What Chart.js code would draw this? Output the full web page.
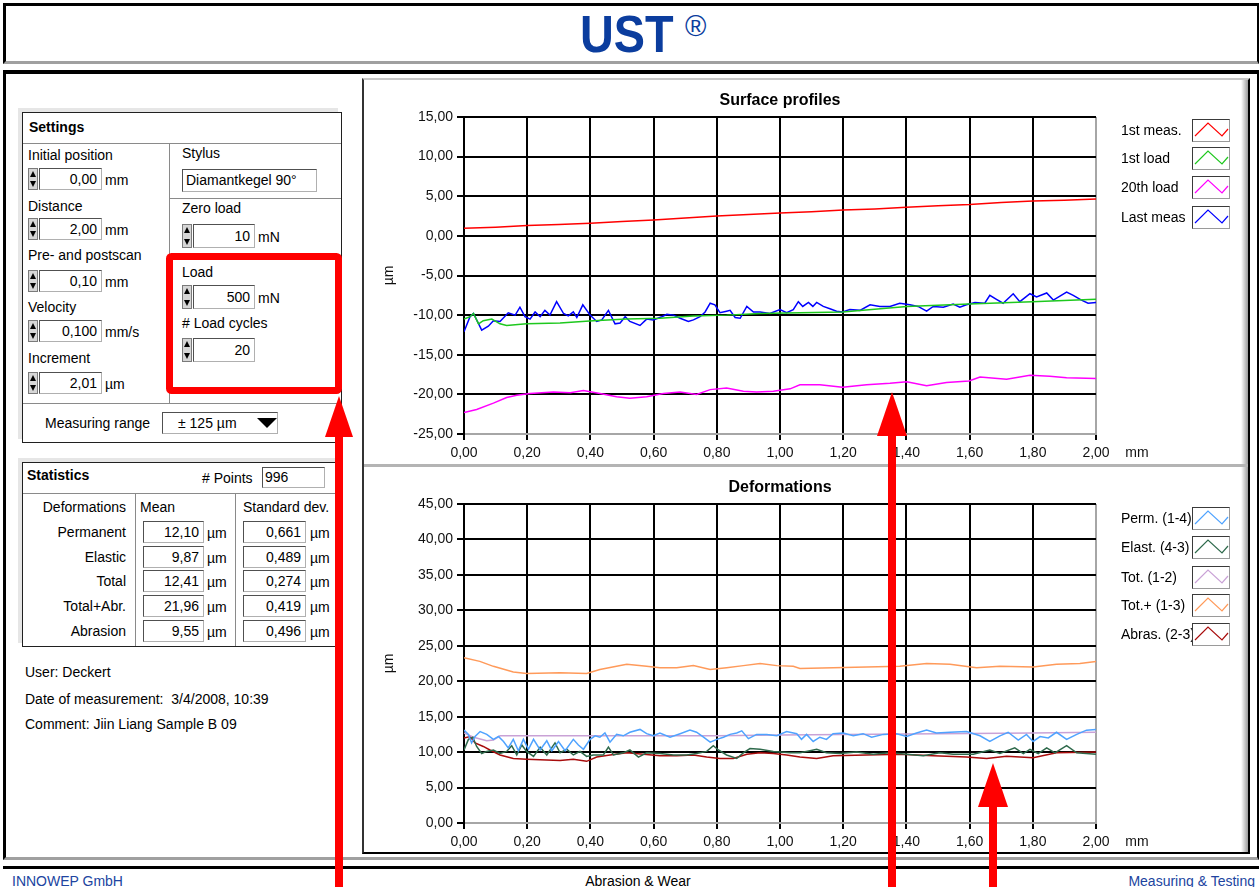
<!DOCTYPE html>
<html>
<head>
<meta charset="utf-8">
<title>UST - Abrasion &amp; Wear</title>
<script src="https://cdn.jsdelivr.net/npm/chart.js@4.4.1/dist/chart.umd.min.js"></script>
<style>
  html, body { margin: 0; padding: 0; }
  body { width: 1259px; height: 887px; overflow: hidden; position: relative; background: #fff;
         font-family: "Liberation Sans", Arial, sans-serif; font-size: 14px; color: #000; }
  .a { position: absolute; box-sizing: border-box; }
  .lbl { position: absolute; white-space: nowrap; line-height: 16px; }
  .b { font-weight: bold; }
  .spin { position: absolute; width: 10px; height: 22px; box-sizing: border-box; background: #d6d6d6;
          border: 1px solid #7a7a7a; }
  .spin::before { content: ''; position: absolute; left: 1px; top: 2px; border-left: 3px solid transparent;
          border-right: 3px solid transparent; border-bottom: 6px solid #000; }
  .spin::after { content: ''; position: absolute; left: 1px; bottom: 2px; border-left: 3px solid transparent;
          border-right: 3px solid transparent; border-top: 6px solid #000; }
  .num { position: absolute; height: 22px; box-sizing: border-box; background: #fff; border: 1px solid #b0b0b0;
         border-top-color: #505050; border-left-color: #505050; text-align: right; padding-right: 4px; line-height: 20px; }
  .ln { position: absolute; background: #8a8a8a; }
  .leg { position: absolute; left: 1121px; white-space: nowrap; line-height: 16px; }
  .legbox { position: absolute; left: 1192px; width: 38px; height: 23px; box-sizing: border-box; background: #fff;
            border: 1px solid #3a3a3a; border-right-color: #9a9a9a; border-bottom-color: #9a9a9a; }
  canvas { position: absolute; }
</style>
</head>
<body>

<!-- header -->
<div class="a" style="left:3px;top:3px;width:1256px;height:61px;border-top:3px solid #000;border-left:3px solid #000;border-right:2px solid #000;border-bottom:3px solid #a0a0a0"></div>
<div class="lbl b" style="left:580px;top:8px;font-size:52px;line-height:52px;color:#0b3d9e;transform:scaleX(0.9);transform-origin:left top">UST</div>
<div class="lbl" style="left:685px;top:12px;font-size:29px;line-height:29px;color:#0b3d9e">®</div>

<!-- main frame -->
<div class="a" style="left:3px;top:70px;width:1256px;height:790px;border-top:4px solid #000;border-left:3px solid #000;border-right:2px solid #000;border-bottom:3px solid #a0a0a0"></div>

<!-- settings -->
<div class="a" style="left:22px;top:112px;width:320px;height:331px;border:1px solid #202020;box-shadow:-4px -4px 0 0 #e6e6e6"></div>
<div class="lbl b" style="left:29px;top:119px">Settings</div>
<div class="ln" style="left:23px;top:143px;width:318px;height:1px"></div>
<div class="ln" style="left:169px;top:143px;width:1px;height:260px"></div>
<div class="ln" style="left:169px;top:198px;width:172px;height:1px"></div>
<div class="ln" style="left:23px;top:403px;width:318px;height:1px"></div>

<div class="lbl" style="left:28px;top:147px">Initial position</div>
<div class="spin" style="left:28px;top:168px"></div>
<div class="num" style="left:39px;top:168px;width:63px">0,00</div>
<div class="lbl" style="left:105px;top:172px">mm</div>

<div class="lbl" style="left:28px;top:198px">Distance</div>
<div class="spin" style="left:28px;top:218px"></div>
<div class="num" style="left:39px;top:218px;width:63px">2,00</div>
<div class="lbl" style="left:105px;top:222px">mm</div>

<div class="lbl" style="left:28px;top:247px">Pre- and postscan</div>
<div class="spin" style="left:28px;top:270px"></div>
<div class="num" style="left:39px;top:270px;width:63px">0,10</div>
<div class="lbl" style="left:105px;top:274px">mm</div>

<div class="lbl" style="left:28px;top:299px">Velocity</div>
<div class="spin" style="left:28px;top:320px"></div>
<div class="num" style="left:39px;top:320px;width:63px">0,100</div>
<div class="lbl" style="left:105px;top:324px">mm/s</div>

<div class="lbl" style="left:28px;top:350px">Increment</div>
<div class="spin" style="left:28px;top:372px"></div>
<div class="num" style="left:39px;top:372px;width:63px">2,01</div>
<div class="lbl" style="left:105px;top:376px">µm</div>

<div class="lbl" style="left:182px;top:145px">Stylus</div>
<div class="num" style="left:182px;top:169px;width:135px;height:23px;text-align:left;padding-left:3px">Diamantkegel 90°</div>

<div class="lbl" style="left:182px;top:200px">Zero load</div>
<div class="spin" style="left:182px;top:224px;height:24px"></div>
<div class="num" style="left:193px;top:224px;width:62px;height:24px;line-height:22px">10</div>
<div class="lbl" style="left:258px;top:229px">mN</div>

<div class="lbl" style="left:182px;top:264px">Load</div>
<div class="spin" style="left:182px;top:285px;height:24px"></div>
<div class="num" style="left:193px;top:285px;width:62px;height:24px;line-height:22px">500</div>
<div class="lbl" style="left:258px;top:290px">mN</div>

<div class="lbl" style="left:182px;top:315px">#&nbsp;Load cycles</div>
<div class="spin" style="left:182px;top:338px;height:24px"></div>
<div class="num" style="left:193px;top:338px;width:62px;height:24px;line-height:22px">20</div>

<div class="lbl" style="left:45px;top:415px">Measuring range</div>
<div class="num" style="left:162px;top:412px;width:116px;text-align:left;padding-left:15px">± 125 µm</div>
<div class="a" style="left:257px;top:418px;width:0;height:0;border-left:10px solid transparent;border-right:10px solid transparent;border-top:10px solid #000"></div>

<!-- statistics -->
<div class="a" style="left:22px;top:462px;width:318px;height:185px;border:1px solid #202020;box-shadow:-4px -4px 0 0 #e6e6e6"></div>
<div class="lbl b" style="left:27px;top:467px">Statistics</div>
<div class="lbl" style="left:202px;top:470px">#&nbsp;Points</div>
<div class="num" style="left:262px;top:467px;width:63px;height:21px;line-height:19px;text-align:left;padding-left:2px">996</div>
<div class="ln" style="left:23px;top:493px;width:316px;height:1px"></div>
<div class="ln" style="left:135px;top:493px;width:1px;height:153px"></div>
<div class="ln" style="left:235px;top:493px;width:1px;height:153px"></div>

<div class="lbl" style="left:20px;top:499px;width:106px;text-align:right">Deformations</div>
<div class="lbl" style="left:140px;top:499px">Mean</div>
<div class="lbl" style="left:243px;top:499px">Standard dev.</div>

<div class="lbl" style="left:20px;top:524px;width:106px;text-align:right">Permanent</div>
<div class="num" style="left:143px;top:521px;width:61px">12,10</div><div class="lbl" style="left:207px;top:525px">µm</div>
<div class="num" style="left:243px;top:521px;width:63px">0,661</div><div class="lbl" style="left:310px;top:525px">µm</div>

<div class="lbl" style="left:20px;top:549px;width:106px;text-align:right">Elastic</div>
<div class="num" style="left:143px;top:546px;width:61px">9,87</div><div class="lbl" style="left:207px;top:550px">µm</div>
<div class="num" style="left:243px;top:546px;width:63px">0,489</div><div class="lbl" style="left:310px;top:550px">µm</div>

<div class="lbl" style="left:20px;top:573px;width:106px;text-align:right">Total</div>
<div class="num" style="left:143px;top:570px;width:61px">12,41</div><div class="lbl" style="left:207px;top:574px">µm</div>
<div class="num" style="left:243px;top:570px;width:63px">0,274</div><div class="lbl" style="left:310px;top:574px">µm</div>

<div class="lbl" style="left:20px;top:598px;width:106px;text-align:right">Total+Abr.</div>
<div class="num" style="left:143px;top:595px;width:61px">21,96</div><div class="lbl" style="left:207px;top:599px">µm</div>
<div class="num" style="left:243px;top:595px;width:63px">0,419</div><div class="lbl" style="left:310px;top:599px">µm</div>

<div class="lbl" style="left:20px;top:623px;width:106px;text-align:right">Abrasion</div>
<div class="num" style="left:143px;top:620px;width:61px">9,55</div><div class="lbl" style="left:207px;top:624px">µm</div>
<div class="num" style="left:243px;top:620px;width:63px">0,496</div><div class="lbl" style="left:310px;top:624px">µm</div>

<div class="lbl" style="left:25px;top:664px">User: Deckert</div>
<div class="lbl" style="left:25px;top:691px">Date of measurement:&nbsp; 3/4/2008, 10:39</div>
<div class="lbl" style="left:25px;top:716px">Comment: Jiin Liang Sample B 09</div>

<!-- chart panel -->
<div class="a" style="left:362px;top:78px;width:888px;height:776px;border-left:2px solid #333;border-top:2px solid #c8c8c8;border-right:2px solid #000;border-bottom:2px solid #000"></div>
<div class="a" style="left:1241px;top:80px;width:7px;height:772px;background:linear-gradient(to right,#fff,#9a9a9a)"></div>
<div class="a" style="left:364px;top:464px;width:884px;height:3px;background:#b4b4b4"></div>

<canvas id="profiles" width="880" height="385" style="left:362px;top:80px"></canvas>
<canvas id="deform" width="880" height="385" style="left:362px;top:467px"></canvas>
<div id="legends"></div>

<!-- footer -->
<div class="a" style="left:3px;top:866px;width:1256px;height:3px;background:#000"></div>
<div class="lbl" style="left:12px;top:873px;color:#2044a0">INNOWEP GmbH</div>
<div class="lbl" style="left:538px;top:873px;width:200px;text-align:center">Abrasion &amp; Wear</div>
<div class="lbl" style="left:1055px;top:873px;width:200px;text-align:right;color:#2044a0">Measuring &amp; Testing</div>

<!-- red annotations -->
<svg class="a" style="left:0;top:0;z-index:5" width="1259" height="887">
  <rect x="169.5" y="256.5" width="169" height="134" rx="2" fill="none" stroke="#ff0000" stroke-width="7"/>
  <polygon points="339,396 325,437 353,437" fill="#ff0000"/>
  <rect x="335" y="436" width="8" height="451" fill="#ff0000"/>
  <polygon points="892,392 877,436 907,436" fill="#ff0000"/>
  <rect x="888" y="435" width="8" height="452" fill="#ff0000"/>
  <polygon points="993,763 978,807 1008,807" fill="#ff0000"/>
  <rect x="989" y="806" width="8" height="81" fill="#ff0000"/>
</svg>

<script>
// surface profiles, [mm, µm]
const firstMeas = [[0,0.95],[0.1,1.1],[0.2,1.3],[0.3,1.45],[0.4,1.6],[0.5,1.8],[0.6,2.0],[0.7,2.25],[0.8,2.5],[0.9,2.7],[1.0,2.9],
  [1.1,3.05],[1.2,3.25],[1.3,3.4],[1.4,3.6],[1.5,3.8],[1.6,3.95],[1.7,4.2],[1.8,4.4],[1.9,4.5],[2.0,4.65]];
const firstLoad = [[0,-10.5],[0.019,-10.2],[0.030,-9.8],[0.046,-11.1],[0.061,-10.7],[0.088,-10.5],[0.114,-11.1],[0.135,-11.3],
  [0.198,-11.1],[0.304,-11.0],[0.409,-10.7],[0.515,-10.5],[0.620,-10.4],[0.726,-10.1],[0.831,-10.0],[0.937,-9.8],[1.063,-9.7],
  [1.198,-9.6],[1.401,-8.9],[1.598,-8.6],[1.798,-8.3],[2.0,-8.0]];
const load20 = [[0,-22.3],[0.040,-21.9],[0.093,-21.1],[0.135,-20.4],[0.167,-20.1],[0.209,-19.9],[0.283,-19.7],[0.336,-19.8],
  [0.378,-19.5],[0.430,-19.9],[0.483,-20.3],[0.525,-20.5],[0.578,-20.3],[0.631,-19.9],[0.684,-19.7],[0.736,-20.0],[0.779,-19.4],
  [0.831,-19.2],[0.884,-19.6],[0.926,-19.7],[0.979,-19.6],[1.032,-19.3],[1.063,-18.8],[1.126,-18.8],[1.198,-19.1],[1.274,-18.8],
  [1.348,-18.6],[1.401,-18.4],[1.464,-18.9],[1.527,-18.5],[1.598,-18.3],[1.633,-17.8],[1.717,-18.1],[1.791,-17.6],[1.854,-17.7],
  [1.907,-17.9],[2.0,-18.0]];
const lastMeas = [[0,-12.1],[0.019,-10.2],[0.030,-9.8],[0.056,-11.9],[0.077,-11.4],[0.093,-10.7],[0.114,-10.8],[0.140,-9.7],
  [0.162,-10.0],[0.177,-9.0],[0.193,-10.2],[0.209,-10.5],[0.225,-9.6],[0.241,-10.2],[0.256,-9.4],[0.272,-10.0],[0.293,-8.3],
  [0.315,-9.8],[0.330,-10.1],[0.346,-9.6],[0.357,-10.3],[0.376,-8.7],[0.399,-10.0],[0.420,-10.8],[0.436,-10.6],[0.457,-9.4],
  [0.478,-11.1],[0.494,-11.0],[0.510,-10.2],[0.525,-10.8],[0.557,-11.3],[0.578,-10.5],[0.599,-10.6],[0.626,-10.2],[0.642,-9.9],
  [0.663,-10.0],[0.684,-10.4],[0.710,-10.8],[0.726,-10.6],[0.747,-10.2],[0.763,-9.6],[0.779,-8.5],[0.794,-8.7],[0.810,-9.7],
  [0.831,-9.5],[0.842,-9.4],[0.858,-10.3],[0.874,-10.4],[0.895,-8.9],[0.916,-9.6],[0.937,-9.6],[0.968,-9.8],[1.000,-9.3],
  [1.021,-9.7],[1.042,-9.3],[1.058,-8.3],[1.072,-8.9],[1.090,-8.4],[1.104,-8.9],[1.116,-8.4],[1.137,-8.9],[1.158,-9.2],
  [1.179,-9.5],[1.198,-9.6],[1.221,-9.3],[1.253,-9.4],[1.285,-8.7],[1.316,-8.9],[1.348,-8.9],[1.379,-8.5],[1.411,-8.7],
  [1.437,-8.9],[1.464,-9.5],[1.485,-8.9],[1.517,-9.0],[1.548,-8.6],[1.569,-9.0],[1.590,-8.7],[1.617,-8.4],[1.648,-8.5],
  [1.664,-7.5],[1.685,-8.0],[1.706,-8.5],[1.738,-7.3],[1.759,-8.3],[1.791,-7.3],[1.812,-7.7],[1.844,-7.2],[1.865,-8.1],
  [1.907,-7.1],[1.928,-7.5],[1.954,-8.1],[1.975,-8.5],[2.0,-8.4]];

// deformations, [mm, µm]
const perm = [[0,13.1],[0.014,12.5],[0.024,11.3],[0.035,12.2],[0.051,12.9],[0.072,12.5],[0.093,11.8],[0.109,12.2],[0.125,11.5],
  [0.140,10.6],[0.156,11.8],[0.172,10.2],[0.188,11.8],[0.204,10.4],[0.220,11.8],[0.241,10.3],[0.262,11.6],[0.278,10.2],
  [0.299,11.5],[0.320,10.2],[0.346,11.8],[0.362,11.0],[0.378,10.4],[0.399,11.8],[0.415,12.3],[0.430,12.1],[0.446,12.7],
  [0.462,11.4],[0.483,12.5],[0.504,12.3],[0.525,12.8],[0.557,13.2],[0.578,12.6],[0.599,12.3],[0.620,12.7],[0.652,12.1],
  [0.684,12.6],[0.715,13.1],[0.736,12.8],[0.758,12.1],[0.779,11.4],[0.800,11.8],[0.821,12.1],[0.842,12.5],[0.863,12.7],
  [0.879,13.0],[0.900,11.9],[0.926,12.5],[0.958,12.5],[0.990,12.3],[1.021,12.9],[1.053,12.6],[1.068,11.8],[1.084,12.5],
  [1.105,11.5],[1.126,12.1],[1.147,11.8],[1.168,12.6],[1.200,12.7],[1.232,12.3],[1.263,12.6],[1.290,12.1],[1.327,12.5],
  [1.369,12.6],[1.401,12.2],[1.432,12.7],[1.464,13.1],[1.495,12.7],[1.538,12.8],[1.590,12.9],[1.633,12.3],[1.664,11.5],
  [1.696,12.3],[1.722,12.8],[1.754,11.7],[1.780,12.5],[1.801,11.5],[1.823,12.2],[1.849,12.0],[1.875,12.8],[1.907,11.8],
  [1.939,12.5],[1.970,13.1],[2.0,13.2]];
const elast = [[0,10.3],[0.014,11.8],[0.028,12.1],[0.040,10.8],[0.056,9.8],[0.072,10.1],[0.093,10.3],[0.114,9.8],[0.135,10.1],
  [0.151,10.9],[0.167,9.6],[0.183,11.0],[0.198,10.1],[0.220,9.4],[0.241,10.7],[0.262,9.6],[0.288,11.3],[0.304,9.9],[0.325,10.4],
  [0.346,9.6],[0.367,10.1],[0.388,9.4],[0.409,9.6],[0.441,9.6],[0.457,10.7],[0.473,9.6],[0.504,9.9],[0.525,10.3],[0.552,9.3],
  [0.578,9.9],[0.620,9.8],[0.663,9.6],[0.705,9.6],[0.736,9.8],[0.768,10.1],[0.789,10.9],[0.805,10.3],[0.831,9.6],[0.863,9.1],
  [0.884,9.9],[0.905,10.5],[0.937,10.4],[0.979,10.1],[1.032,9.9],[1.063,9.9],[1.095,10.2],[1.116,10.4],[1.147,9.9],[1.190,9.8],
  [1.242,10.0],[1.295,9.7],[1.348,9.9],[1.401,9.7],[1.453,9.5],[1.506,9.9],[1.548,9.7],[1.612,9.7],[1.664,10.3],[1.696,9.8],
  [1.743,10.6],[1.770,9.8],[1.791,10.4],[1.817,9.8],[1.844,10.6],[1.870,9.9],[1.907,10.9],[1.939,9.9],[2.0,9.7]];
const total = [[0,12.7],[0.030,12.1],[0.072,11.6],[0.093,11.7],[0.114,12.3],[0.2,12.3],[0.5,12.3],[0.8,12.3],[1.0,12.4],
  [1.2,12.5],[1.5,12.6],[1.8,12.7],[2.0,12.8]];
const totalAbr = [[0,23.3],[0.05,22.8],[0.093,22.1],[0.156,21.3],[0.198,21.1],[0.304,21.2],[0.388,21.1],[0.430,21.65],[0.515,22.4],
  [0.578,22.1],[0.620,21.9],[0.673,21.9],[0.726,22.2],[0.779,21.65],[0.831,21.9],[0.884,22.2],[0.937,22.5],[0.990,22.2],
  [1.042,22.1],[1.063,21.8],[1.168,21.9],[1.274,22.0],[1.379,22.1],[1.464,22.5],[1.538,22.4],[1.622,21.9],[1.696,22.1],
  [1.801,22.0],[1.875,22.4],[1.949,22.5],[2.0,22.8]];
const abras = [[0,12.0],[0.019,12.2],[0.035,11.3],[0.061,10.8],[0.082,10.3],[0.114,9.6],[0.156,9.1],[0.198,9.0],[0.262,8.9],
  [0.304,8.8],[0.346,9.0],[0.388,8.7],[0.420,9.3],[0.462,9.6],[0.515,9.9],[0.568,9.7],[0.620,9.5],[0.673,9.5],[0.726,9.6],
  [0.768,9.3],[0.810,9.1],[0.852,9.1],[0.895,9.7],[0.937,9.9],[0.979,9.8],[1.021,9.6],[1.063,9.3],[1.116,9.1],[1.168,9.5],
  [1.274,9.6],[1.379,9.7],[1.485,9.5],[1.590,9.3],[1.654,9.1],[1.717,9.4],[1.801,9.2],[1.875,9.9],[2.0,10.0]];

const profileLabels = ['1st meas.', '1st load', '20th load', 'Last meas'];
const profileColors = ['#ff0000', '#1ec81e', '#ff00ff', '#0000ff'];
const deformLabels = ['Perm. (1-4)', 'Elast. (4-3)', 'Tot. (1-2)', 'Tot.+ (1-3)', 'Abras. (2-3)'];
const deformColors = ['#4fa3ff', '#2f6a4c', '#c9a2d6', '#ff9a5a', '#a80c0c'];

const xRange = [0, 2.0];
const profileRange = [-25, 15];
const deformRange = [0, 45];

Chart.defaults.font.family = '"Liberation Sans", Arial, sans-serif';
Chart.defaults.font.size = 14;
Chart.defaults.color = '#111';

const gridGray = '#a6a6a6';

function comma(v) {
  return Number(v).toFixed(2).replace('.', ',');
}

// title above plot, "mm" after x labels, rotated "µm" at left
const panelText = {
  id: 'panelText',
  afterDraw(chart, args, opts) {
    const ctx = chart.ctx, a = chart.chartArea;
    ctx.save();
    ctx.fillStyle = '#000';
    ctx.textAlign = 'center';
    ctx.textBaseline = 'middle';
    ctx.font = 'bold 16px "Liberation Sans", Arial, sans-serif';
    ctx.fillText(opts.title, (a.left + a.right) / 2, a.top - 16);
    ctx.font = '14px "Liberation Sans", Arial, sans-serif';
    ctx.fillStyle = '#111';
    ctx.fillText('mm', a.right + 41, a.bottom + 19);
    ctx.translate(27, (a.top + a.bottom) / 2);
    ctx.rotate(-Math.PI / 2);
    ctx.fillText('µm', 0, 0);
    ctx.restore();
  }
};

function makeChart(id, title, labels, colors, series, yRange, xAxisHeight) {
  return new Chart(document.getElementById(id), {
    type: 'line',
    data: {
      datasets: series.map((s, i) => ({
        label: labels[i],
        data: s.map(p => ({ x: p[0], y: p[1] })),
        borderColor: colors[i],
        borderWidth: 1.5,
        pointRadius: 0,
        tension: 0,
        fill: false
      }))
    },
    options: {
      responsive: false,
      animation: false,
      devicePixelRatio: 1,
      layout: { padding: { left: 0, right: 146, top: 37, bottom: 0 } },
      plugins: {
        legend: { display: false },
        tooltip: { enabled: false },
        panelText: { title: title }
      },
      scales: {
        x: {
          type: 'linear', min: xRange[0], max: xRange[1],
          ticks: { stepSize: 0.2, callback: comma, padding: 5, maxRotation: 0, autoSkip: false },
          grid: { color: c => (c.tick && c.tick.value >= xRange[1] - 1e-9) ? gridGray : '#000',
                  lineWidth: 2, tickLength: 6, tickColor: '#000' },
          border: { color: gridGray, width: 2 },
          afterFit: s => { s.height = xAxisHeight; }
        },
        y: {
          min: yRange[0], max: yRange[1],
          ticks: { stepSize: 5, callback: comma, padding: 4 },
          grid: { color: c => (c.tick && c.tick.value <= yRange[0]) ? gridGray : '#000',
                  lineWidth: 2, tickLength: 7, tickColor: '#000' },
          border: { color: '#000', width: 2 },
          afterFit: s => { s.width = 102; }
        }
      }
    },
    plugins: [panelText]
  });
}

makeChart('profiles', 'Surface profiles', profileLabels, profileColors,
  [firstMeas, firstLoad, load20, lastMeas], profileRange, 31);
makeChart('deform', 'Deformations', deformLabels, deformColors,
  [perm, elast, total, totalAbr, abras], deformRange, 29);

// legends: label text with a boxed zigzag swatch
function addLegend(labels, colors, centers) {
  const box = document.getElementById('legends');
  labels.forEach((txt, i) => {
    const t = document.createElement('div');
    t.className = 'leg';
    t.style.top = (centers[i] - 8) + 'px';
    t.textContent = txt;
    box.appendChild(t);
    const sw = document.createElement('div');
    sw.className = 'legbox';
    sw.style.top = (centers[i] - 11) + 'px';
    sw.innerHTML = '<svg width="36" height="21" style="position:absolute;left:0;top:0">' +
      '<polyline points="2,16 15,3 29,16 35,9" fill="none" stroke="' + colors[i] + '" stroke-width="1.2"/></svg>';
    box.appendChild(sw);
  });
}
addLegend(profileLabels, profileColors, [130, 158, 187, 217]);
addLegend(deformLabels, deformColors, [518, 547, 577, 605, 634]);
</script>
</body>
</html>
